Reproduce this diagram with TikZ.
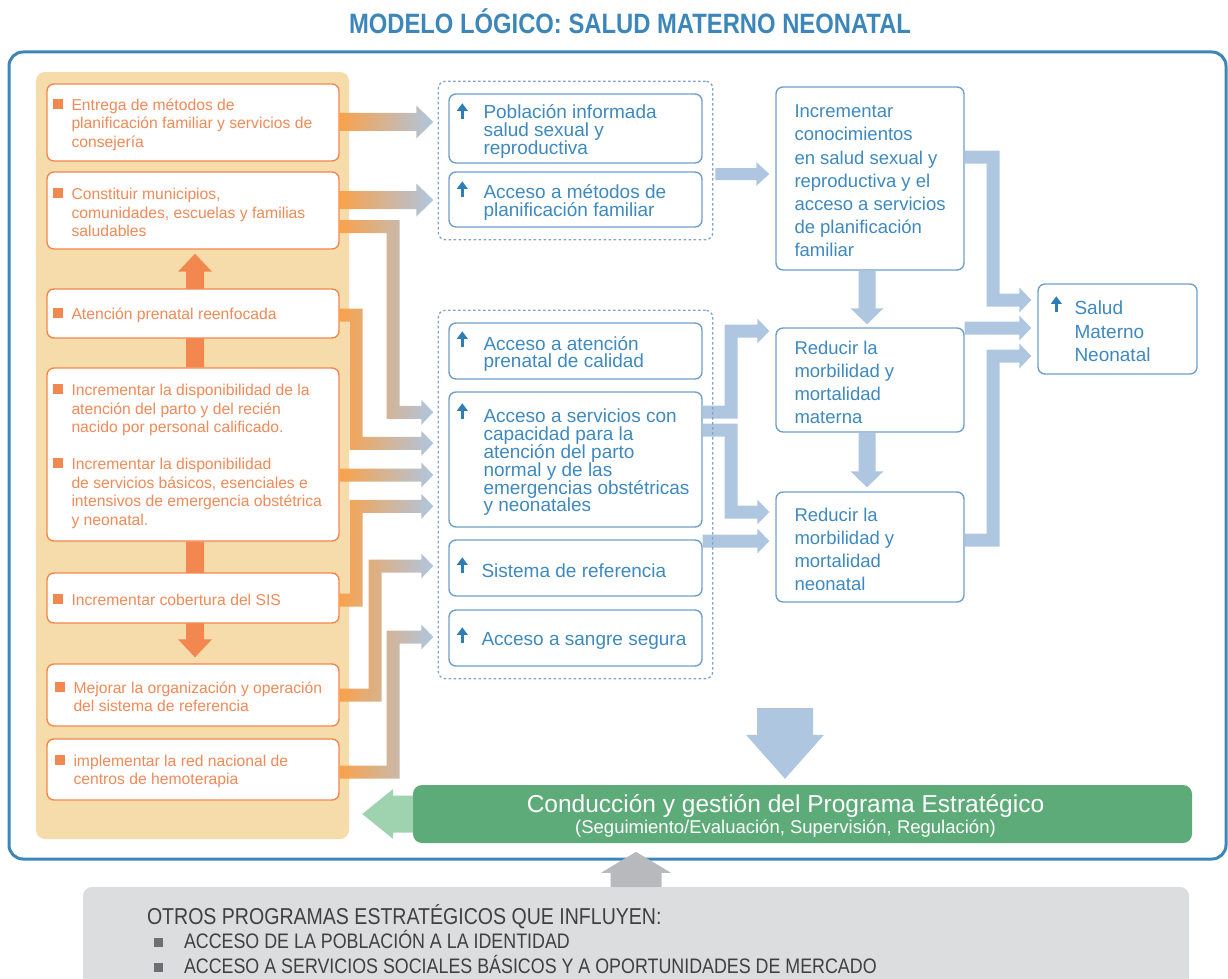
\documentclass[tikz,border=0pt]{standalone}
\usepackage{fontspec}
\setmainfont{Liberation Sans}
\newfontfamily\condfont[FakeStretch=0.85]{Liberation Sans}
\usetikzlibrary{calc,positioning,fit,backgrounds,arrows.meta}

\definecolor{azul}{HTML}{3C86B9}
\definecolor{durazno}{HTML}{F6DCAA}
\definecolor{naranja}{HTML}{F2874F}
\definecolor{naranjaT}{HTML}{F08A58}
\definecolor{naranjaF}{HTML}{F9A24A}
\definecolor{celeste}{HTML}{AFC6E1}
\definecolor{azulborde}{HTML}{6F9FCB}
\definecolor{azultexto}{HTML}{3E89BF}
\definecolor{azulicono}{HTML}{2F7DB6}
\definecolor{punteado}{HTML}{7FA3C8}
\definecolor{verde}{HTML}{5DAB79}
\definecolor{verdeclaro}{HTML}{9FD3B0}
\definecolor{grisfondo}{HTML}{DCDDDF}
\definecolor{gristexto}{HTML}{404042}
\definecolor{grisflecha}{HTML}{B8B9BD}
\definecolor{grisbala}{HTML}{6F6F73}

% medidas de las flechas de bloque: media anchura, media cabeza, largo de cabeza
\newcommand\medidas[3]{\def\anchoF{#1}\def\cabezaF{#2}\def\largoF{#3}}
\newcommand\flechaH[3][]{%
  \path[#1] let \p1=#2, \p2=#3, \n1={sign(\x2-\x1)} in
    (\x1,{\y1+\anchoF}) -- ({\x2-(\n1)*\largoF},{\y1+\anchoF}) -- ({\x2-(\n1)*\largoF},{\y1+\cabezaF})
    -- (\x2,\y1) -- ({\x2-(\n1)*\largoF},{\y1-\cabezaF}) -- ({\x2-(\n1)*\largoF},{\y1-\anchoF})
    -- (\x1,{\y1-\anchoF}) -- cycle;}
\newcommand\flechaV[3][]{%
  \path[#1] let \p1=#2, \p2=#3, \n1={sign(\y2-\y1)} in
    ({\x1-\anchoF},\y1) -- ({\x1-\anchoF},{\y2-(\n1)*\largoF}) -- ({\x1-\cabezaF},{\y2-(\n1)*\largoF})
    -- (\x1,\y2) -- ({\x1+\cabezaF},{\y2-(\n1)*\largoF}) -- ({\x1+\anchoF},{\y2-(\n1)*\largoF})
    -- ({\x1+\anchoF},\y1) -- cycle;}
\newcommand\flechaC[4][]{%
  \path[#1] let \p1=#2, \p2=#3, \p3=#4, \n1={sign(\y1-\y3)} in
    (\x1,{\y1+(\n1)*\anchoF}) -- ({\x2+\anchoF},{\y1+(\n1)*\anchoF}) -- ({\x2+\anchoF},{\y3+(\n1)*\anchoF})
    -- ({\x3-\largoF},{\y3+(\n1)*\anchoF}) -- ({\x3-\largoF},{\y3+(\n1)*\cabezaF}) -- (\x3,\y3)
    -- ({\x3-\largoF},{\y3-(\n1)*\cabezaF}) -- ({\x3-\largoF},{\y3-(\n1)*\anchoF})
    -- ({\x2-\anchoF},{\y3-(\n1)*\anchoF}) -- ({\x2-\anchoF},{\y1-(\n1)*\anchoF}) -- (\x1,{\y1-(\n1)*\anchoF}) -- cycle;}
\newcommand\cuad{\llap{\textcolor{naranja}{\rule[1.5pt]{10pt}{10pt}}\hspace{9pt}}}
\newcommand\cuadgris{\hspace*{7pt}\textcolor{grisbala}{\rule[1.5pt]{9pt}{9pt}}\hspace*{21pt}}
\newcommand\icono[3]{\draw[flechita] ($(#1.north west)+(#2,#3+8)$) -- ++(0,-16);}
\newcommand\apretado{\lineskiplimit -10pt\relax}

\begin{document}
\begin{tikzpicture}[x=1pt, y=-1pt,
  cajaA/.style={draw=naranja, line width=1.4pt, fill=white, rounded corners=7pt, minimum width=292pt, inner sep=0pt},
  txtA/.style={text=naranjaT, font=\fontsize{15.7}{18.5}\selectfont, align=left, inner sep=0pt, yshift=-2pt},
  cajaP/.style={draw=azulborde, line width=1.4pt, fill=white, rounded corners=7pt, minimum width=253pt, inner sep=0pt},
  txtP/.style={text=azultexto, font={\fontsize{19}{17.8}\selectfont\apretado}, align=left, inner sep=0pt, yshift=-3pt},
  cajaR/.style={draw=azulborde, line width=1.4pt, fill=white, rounded corners=7pt, minimum width=188pt, inner sep=0pt},
  txtR/.style={text=azultexto, font=\fontsize{18.5}{23.2}\selectfont, align=left, inner sep=0pt, yshift=-2.5pt},
  grupo/.style={draw=punteado, line width=1.3pt, dash pattern=on 2.5pt off 2.5pt, rounded corners=7pt, inner xsep=10pt, inner ysep=12pt},
  flechita/.style={draw=azulicono, line width=3pt, -{Triangle[width=10.5pt,length=7.5pt]}},
  degradado/.style={left color=naranjaF, right color=celeste},
  celesteF/.style={fill=celeste}]
\useasboundingbox (0,0) rectangle (1228,979);

\node[anchor=base, text=azul, font=\condfont\bfseries\fontsize{28}{30}\selectfont] (titulo) at (630,34) {MODELO LÓGICO: SALUD MATERNO NEONATAL};
\draw[azul, line width=3pt, rounded corners=14pt] (9,52) rectangle (1226,859);

% actividades
\node[cajaA, minimum height=77pt] (act1) at (193,122.5) {};
\node[cajaA, minimum height=77pt] (act2) at (193,210.5) {};
\node[cajaA, minimum height=49pt] (act3) at (193,313.5) {};
\node[cajaA, minimum height=173pt] (act4) at (193,454.5) {};
\node[cajaA, minimum height=50pt] (act5) at (193,598) {};
\node[cajaA, minimum height=62pt] (act6) at (193,695) {};
\node[cajaA, minimum height=61pt] (act7) at (193,769.5) {};
\node[txtA, right=25pt of act1.west] (ta1) {\cuad Entrega de métodos de\\planificación familiar y servicios de\\consejería};
\node[txtA, right=25pt of act2.west] (ta2) {\cuad Constituir municipios,\\comunidades, escuelas y familias\\saludables};
\node[txtA, right=25pt of act3.west] (ta3) {\cuad Atención prenatal reenfocada};
\node[txtA, right=25pt of act4.west] (ta4) {\cuad Incrementar la disponibilidad de la\\atención del parto y del recién\\nacido por personal calificado.\\[18.5pt]\cuad Incrementar la disponibilidad\\de servicios básicos, esenciales e\\intensivos de emergencia obstétrica\\y neonatal.};
\node[txtA, right=25pt of act5.west] (ta5) {\cuad Incrementar cobertura del SIS};
\node[txtA, right=27pt of act6.west] (ta6) {\cuad Mejorar la organización y operación\\del sistema de referencia};
\node[txtA, right=27pt of act7.west] (ta7) {\cuad implementar la red nacional de\\centros de hemoterapia};

\begin{scope}[on background layer]
  \node[fill=durazno, rounded corners=9pt, minimum width=313pt, minimum height=767pt, inner sep=0pt] (panel) at (192.5,455.5) {};
  \medidas{9pt}{17pt}{18pt}
  \flechaV[fill=naranja]{($(act4.north)+(2,0)$)}{($(act2.south)+(2,4)$)}
  \flechaV[fill=naranja]{($(act4.south)+(2,0)$)}{($(act6.north)+(2,-6)$)}
\end{scope}

% productos
\node[cajaP, minimum height=69pt] (prod1) at (575.5,128.5) {};
\node[cajaP, minimum height=55pt] (prod2) at (575.5,199.5) {};
\node[cajaP, minimum height=56pt] (prod3) at (575.5,351) {};
\node[cajaP, minimum height=135pt] (prod4) at (575.5,459.5) {};
\node[cajaP, minimum height=56pt] (prod5) at (575.5,568) {};
\node[cajaP, minimum height=56pt] (prod6) at (575.5,638) {};
\node[txtP, right=35pt of prod1.west] (tp1) {Población informada\\salud sexual y\\reproductiva};
\node[txtP, right=35pt of prod2.west] (tp2) {Acceso a métodos de\\planificación familiar};
\node[txtP, right=35pt of prod3.west] (tp3) {Acceso a atención\\prenatal de calidad};
\node[txtP, right=35pt of prod4.west] (tp4) {Acceso a servicios con\\capacidad para la\\atención del parto\\normal y de las\\emergencias obstétricas\\y neonatales};
\node[txtP, right=33pt of prod5.west] (tp5) {Sistema de referencia};
\node[txtP, right=33pt of prod6.west] (tp6) {Acceso a sangre segura};
\icono{prod1}{14}{18}
\icono{prod2}{14}{18}
\icono{prod3}{14}{17}
\icono{prod4}{14}{20}
\icono{prod5}{14}{26}
\icono{prod6}{14}{26}

% resultados
\node[cajaR, minimum height=183pt] (res1) at (870,178.5) {};
\node[cajaR, minimum height=104pt] (res2) at (870,380) {};
\node[cajaR, minimum height=110pt] (res3) at (870,547) {};
\node[cajaR, minimum width=159pt, minimum height=90pt] (final) at (1117.5,329) {};
\node[txtR, right=19pt of res1.west] (tr1) {Incrementar\\conocimientos\\en salud sexual y\\reproductiva y el\\acceso a servicios\\de planificación\\familiar};
\node[txtR, right=19pt of res2.west] (tr2) {Reducir la\\morbilidad y\\mortalidad\\materna};
\node[txtR, right=19pt of res3.west] (tr3) {Reducir la\\morbilidad y\\mortalidad\\neonatal};
\node[txtR, font=\fontsize{19}{23.5}\selectfont, right=37pt of final.west] (tf) {Salud\\Materno\\Neonatal};
\icono{final}{19}{21}

\coordinate (rielA) at (356,0);
\coordinate (rielB) at (375,0);
\coordinate (rielC) at (393,0);
\coordinate (rielD) at (731,0);
\coordinate (rielE) at (993,0);

% actividades -> productos
\medidas{9pt}{16.5pt}{17pt}
\flechaH[degradado]{($(act1.east)+(0,-0.5)$)}{($(prod1.west)+(-15,0)$)}
\flechaH[degradado]{($(act2.east)+(0,-10.5)$)}{($(prod2.west)+(-15,0)$)}
\medidas{6.5pt}{12.5pt}{12pt}
\flechaC[degradado]{($(act2.east)+(0,16)$)}{(rielC)}{($(prod4.north west)+(-15,21)$)}
\flechaC[degradado]{($(act3.east)+(0,1.5)$)}{(rielA)}{($(prod4.north west)+(-15,52)$)}
\flechaH[degradado]{($(act4.east)+(0,20.5)$)}{($(prod4.west)+(-15,0)$)}
\flechaC[degradado]{($(act5.east)+(0,2)$)}{(rielA)}{($(prod4.north west)+(-15,115)$)}
\flechaC[degradado]{(act6.east)}{(rielB)}{($(prod5.west)+(-15,-2)$)}
\flechaC[degradado]{($(act7.east)+(0,2.5)$)}{(rielC)}{($(prod6.west)+(-15,-1)$)}

% productos -> resultados
\flechaC[celesteF]{($(prod4.east)+(0,-47.5)$)}{(rielD)}{($(res2.west)+(-6,-49)$)}
\flechaC[celesteF]{($(prod4.east)+(0,-29.5)$)}{(rielD)}{($(res3.west)+(-6,-35)$)}
\flechaH[celesteF]{($(prod5.east)+(0,-27)$)}{($(res3.west)+(-6,0)$)}
\node[grupo, fit=(prod1)(prod2)] (g1) {};
\node[grupo, fit=(prod3)(prod6)] (g2) {};
\medidas{6pt}{12pt}{13pt}
\flechaH[celesteF]{($(g1.east)+(2,13.5)$)}{($(res1.west)+(-6,0)$)}

% resultados -> salud
\medidas{6.5pt}{12.5pt}{12pt}
\flechaC[celesteF]{($(res1.east)+(0,-21.5)$)}{(rielE)}{($(final.west)+(-6,-29)$)}
\flechaH[celesteF]{($(res2.east)+(0,-52)$)}{($(final.west)+(-6,0)$)}
\flechaC[celesteF]{($(res3.east)+(0,-7)$)}{(rielE)}{($(final.west)+(-6,27)$)}
\medidas{8.5pt}{16.5pt}{16pt}
\flechaV[celesteF]{($(res1.south)+(-3,0)$)}{($(res2.north)+(-3,-3)$)}
\flechaV[celesteF]{($(res2.south)+(-3,0)$)}{($(res3.north)+(-3,-4)$)}

% conduccion
\node[fill=verde, rounded corners=9pt, minimum width=779pt, minimum height=58pt, inner sep=0pt] (gestion) at (802.5,814) {};
\node[text=white, align=center, inner sep=0pt, font=\fontsize{18.5}{21}\selectfont] (tg) at ($(gestion.center)+(-17,2)$) {{\fontsize{24.5}{21}\selectfont Conducción y gestión del Programa Estratégico}\\(Seguimiento/Evaluación, Supervisión, Regulación)};
\coordinate (arriba) at (785,708);
\medidas{28pt}{39pt}{44pt}
\flechaV[celesteF]{(arriba)}{($(gestion.north)+(-17.5,-6)$)}
\medidas{18.5pt}{25pt}{31pt}
\flechaH[fill=verdeclaro]{(gestion.west)}{($(panel.east)+(13,0)$)}

% otros programas
\node[fill=grisfondo, rounded corners=9pt, minimum width=1106pt, minimum height=113pt, inner sep=0pt] (otros) at (636,943.5) {};
\node[anchor=west, text=gristexto, align=left, inner sep=0pt, font=\condfont\fontsize{21}{24.5}\selectfont] (tot) at ($(otros.north west)+(64,52)$) {{\fontsize{23}{24.5}\selectfont OTROS PROGRAMAS ESTRATÉGICOS QUE INFLUYEN:}\\\cuadgris ACCESO DE LA POBLACIÓN A LA IDENTIDAD\\\cuadgris ACCESO A SERVICIOS SOCIALES BÁSICOS Y A OPORTUNIDADES DE MERCADO};
\medidas{25.5pt}{35pt}{21pt}
\flechaV[fill=grisflecha]{(otros.north)}{($(otros.north)+(0,-35)$)}
\end{tikzpicture}
\end{document}
